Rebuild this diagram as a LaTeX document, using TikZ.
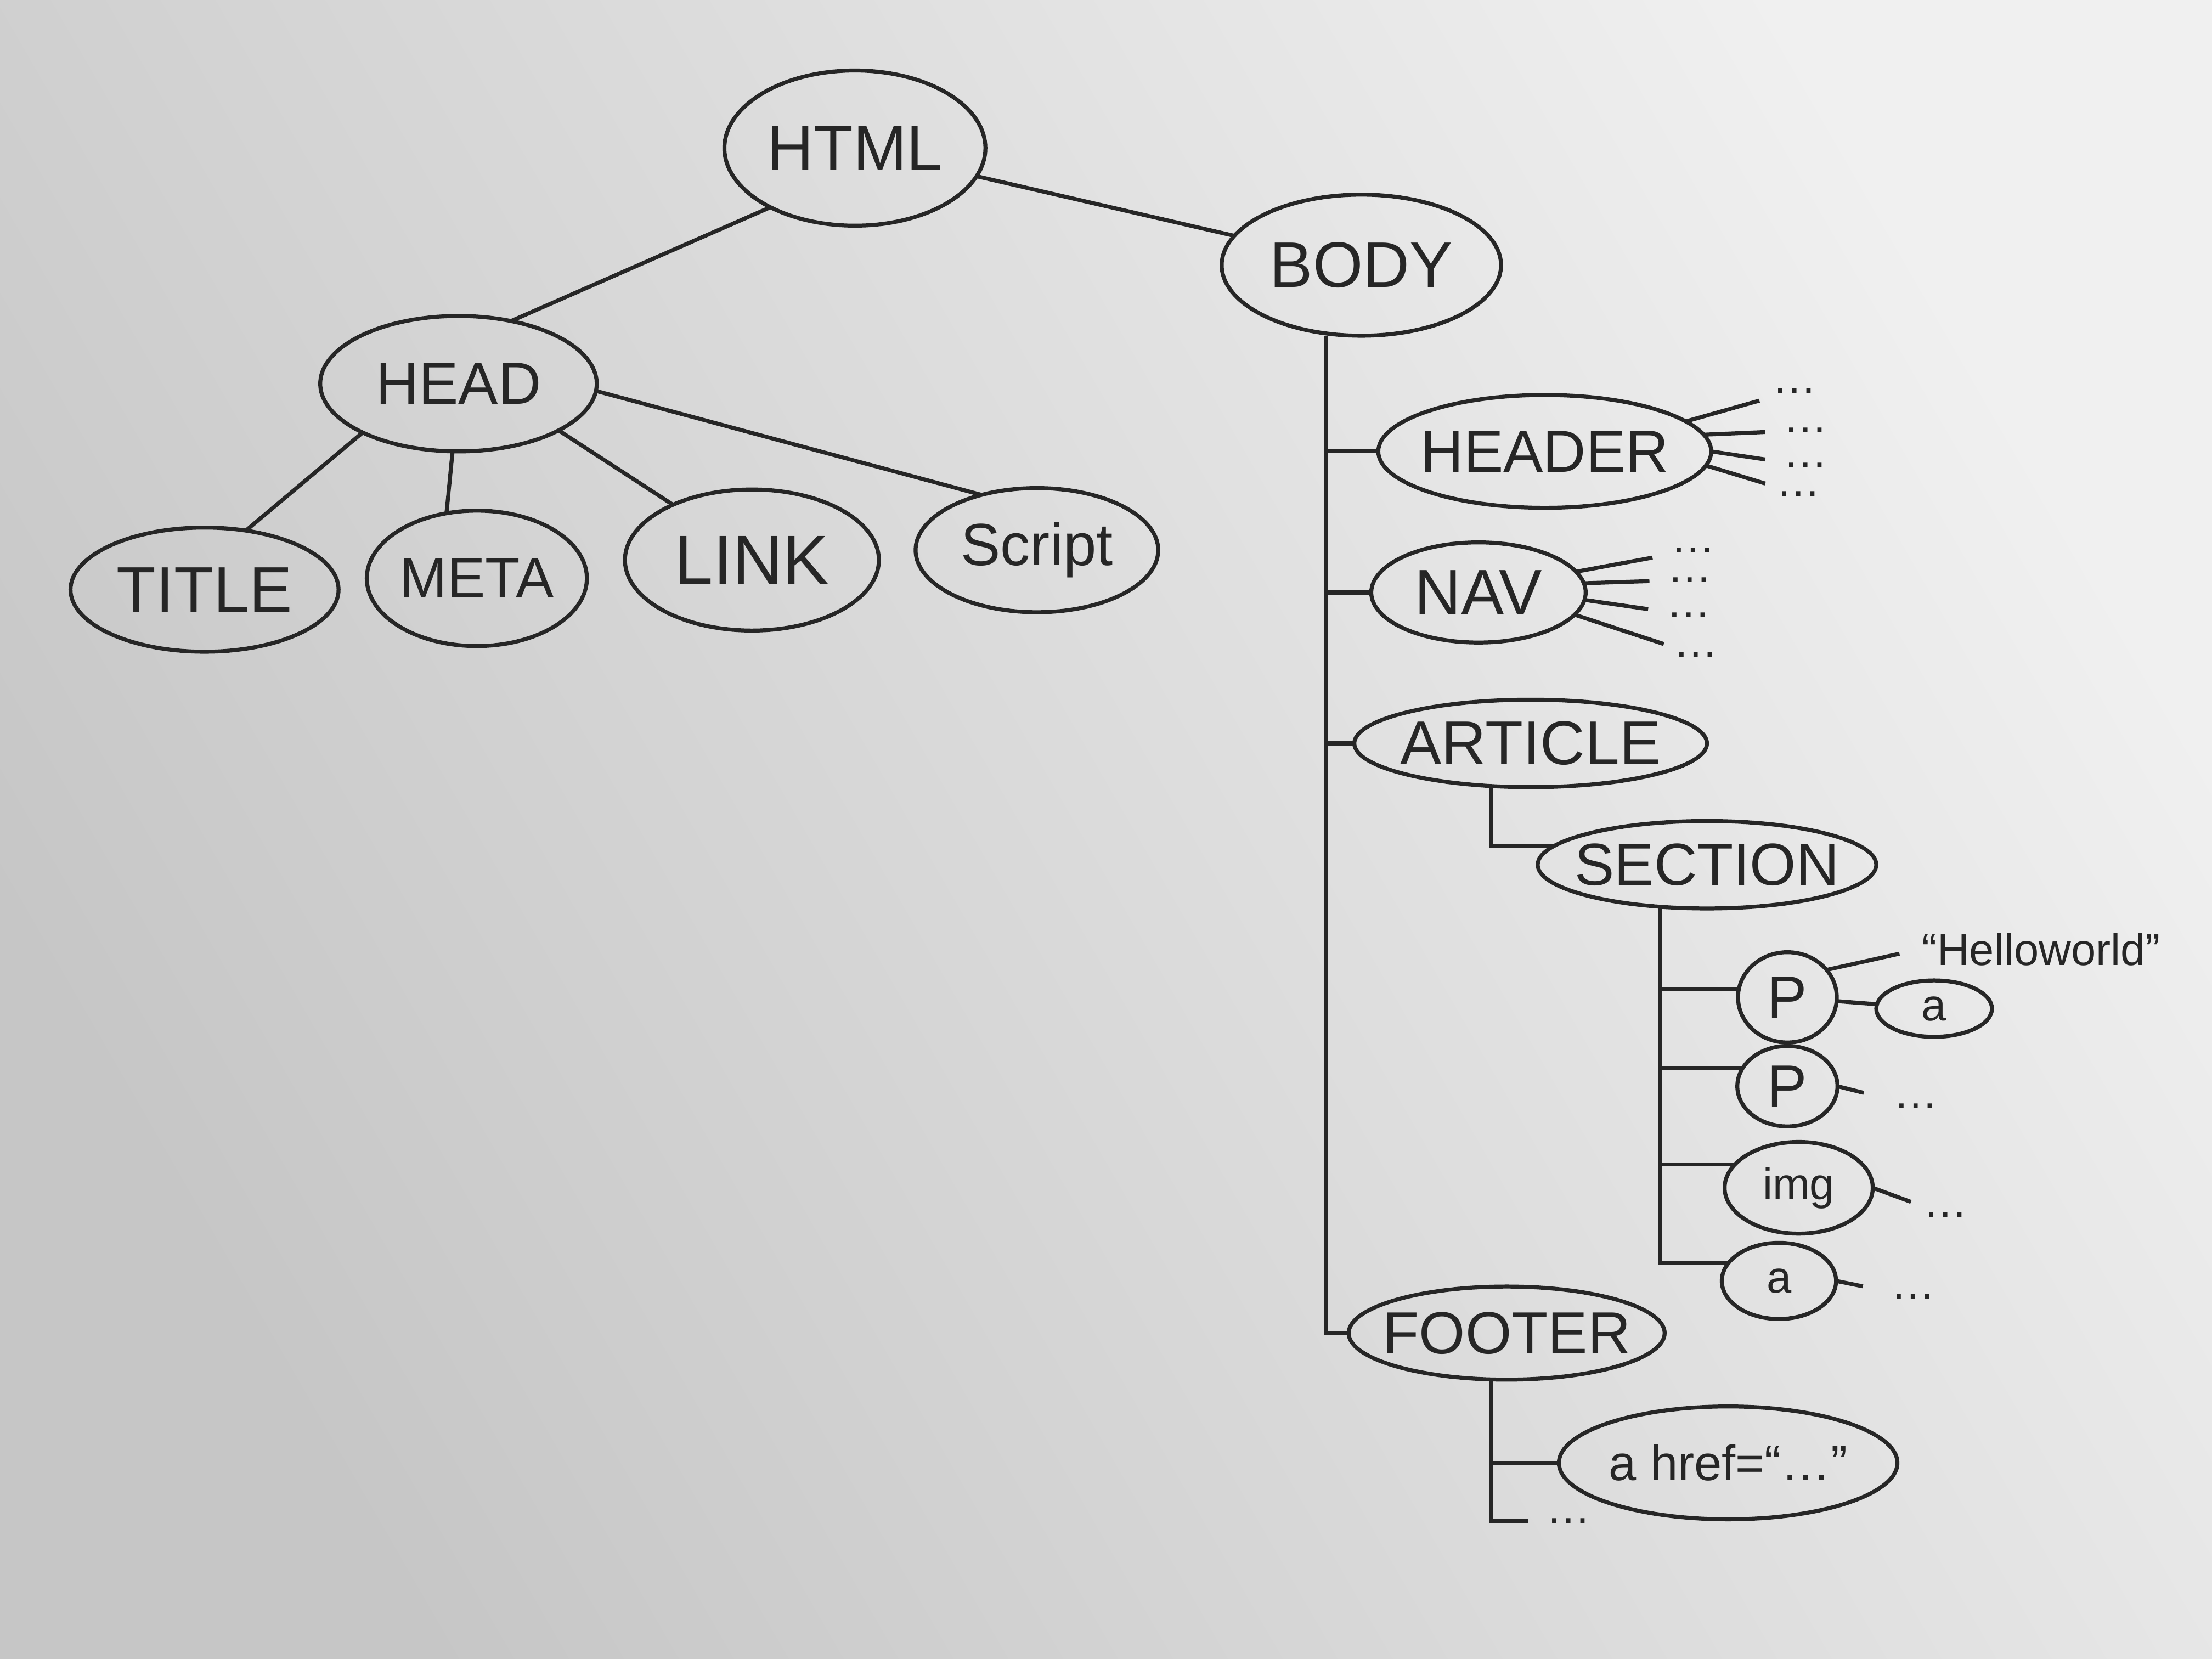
\documentclass[tikz,border=0pt]{standalone}
\usepackage{fontspec}
\setmainfont{Liberation Sans}
\usepackage{tkz-graph}
\usetikzlibrary{shapes.geometric}
\definecolor{ink}{RGB}{38,38,38}
\definecolor{boarddark}{RGB}{198,198,198}
\definecolor{boardlight}{RGB}{240,240,240}
\tikzset{oval/.style 2 args={minimum width=#1cm, minimum height=#2cm},
  fsize/.style={font=\fontsize{#1}{#1}\selectfont},
  dotsnode/.style={text=ink, inner sep=0.5pt, fsize=9}}

\begin{document}
\begin{tikzpicture}
\useasboundingbox (0,0) rectangle (15.68,11.76);
\shade[left color=boarddark, right color=boardlight, shading angle=120] (0,0) rectangle (15.68,11.76);
\GraphInit[vstyle=Empty]
\tikzset{VertexStyle/.style ={shape=ellipse, draw=ink, line width=0.8pt, text=ink, inner xsep=-6pt, inner ysep=0pt}}
\tikzset{EdgeStyle/.style ={draw=ink, line width=0.8pt}}
% head side
\Vertex[x=6.06, y=10.71, L=HTML, style={oval={1.85}{1.10}, fsize=13}]{HTML}
\Vertex[x=9.65, y=9.88, L=BODY, style={oval={1.98}{1.00}, fsize=13}]{BODY}
\Vertex[x=3.25, y=9.04, L=HEAD, style={oval={1.96}{0.96}, fsize=12}]{HEAD}
\Vertex[x=1.45, y=7.58, L=TITLE, style={oval={1.90}{0.88}, fsize=13}]{TITLE}
\Vertex[x=3.38, y=7.66, L=META, style={oval={1.56}{0.96}, fsize=11.5}]{META}
\Vertex[x=5.33, y=7.79, L=LINK, style={oval={1.80}{1.00}, fsize=14}]{LINK}
\Vertex[x=7.35, y=7.86, L=Script, style={oval={1.72}{0.88}, fsize=12}]{Script}
\Edge(HTML)(BODY)
\draw[EdgeStyle] (HTML.215) -- (HEAD.50);
\draw[EdgeStyle] (HEAD.207) -- (TITLE.55);
\draw[EdgeStyle] (HEAD.265) -- (META.115);
\draw[EdgeStyle] (HEAD.-25) -- (LINK.145);
\draw[EdgeStyle] (HEAD.-3) -- (Script.135);
% body side
\Vertex[x=10.95, y=8.56, L=HEADER, style={oval={2.36}{0.80}, fsize=12}]{HEADER}
\Vertex[x=10.48, y=7.56, L=NAV, style={oval={1.52}{0.71}, fsize=13}]{NAV}
\Vertex[x=10.85, y=6.49, L=ARTICLE, style={oval={2.50}{0.62}, fsize=12.5}]{ARTICLE}
\Vertex[x=12.10, y=5.63, L=SECTION, style={oval={2.40}{0.62}, fsize=12}]{SECTION}
\Vertex[x=10.68, y=2.31, L=FOOTER, style={oval={2.24}{0.66}, fsize=12}]{FOOTER}
\coordinate (bodytrunk) at ([xshift=-0.25cm]BODY.south);
\draw[EdgeStyle] (bodytrunk) |- (HEADER.west);
\draw[EdgeStyle] (bodytrunk) |- (NAV.west);
\draw[EdgeStyle] (bodytrunk) |- (ARTICLE.west);
\draw[EdgeStyle] (bodytrunk) |- (FOOTER.west);
\draw[EdgeStyle] ([xshift=-0.28cm]ARTICLE.south) |- (SECTION.173);
% fans
\node[dotsnode] (hd1) at (12.72,8.99) {\dots};
\node[dotsnode] (hd2) at (12.80,8.71) {\dots};
\node[dotsnode] (hd3) at (12.80,8.46) {\dots};
\node[dotsnode] (hd4) at (12.75,8.26) {\dots};
\node[dotsnode] (nd1) at (12.00,7.86) {\dots};
\node[dotsnode] (nd2) at (11.98,7.65) {\dots};
\node[dotsnode] (nd3) at (11.97,7.40) {\dots};
\node[dotsnode] (nd4) at (12.02,7.12) {\dots};
\draw[EdgeStyle, shorten >=3pt] (HEADER.12) -- (hd1);
\draw[EdgeStyle, shorten >=3pt] (HEADER.6) -- (hd2);
\draw[EdgeStyle, shorten >=3pt] (HEADER.0) -- (hd3);
\draw[EdgeStyle, shorten >=3pt] (HEADER.-5) -- (hd4);
\draw[EdgeStyle, shorten >=3pt] (NAV.12) -- (nd1);
\draw[EdgeStyle, shorten >=3pt] (NAV.5) -- (nd2);
\draw[EdgeStyle, shorten >=3pt] (NAV.-4) -- (nd3);
\draw[EdgeStyle, shorten >=3pt] (NAV.-13) -- (nd4);
% section
\Vertex[x=12.67, y=4.69, L=P, style={oval={0.70}{0.64}, fsize=12}]{P1}
\Vertex[x=13.71, y=4.61, L=a, style={oval={0.82}{0.40}, fsize=9}]{alink}
\Vertex[x=12.67, y=4.06, L=P, style={oval={0.71}{0.57}, fsize=12}]{P2}
\Vertex[x=12.75, y=3.34, L=img, style={oval={1.05}{0.65}, fsize=9}]{img}
\Vertex[x=12.61, y=2.68, L=a, style={oval={0.81}{0.54}, fsize=9}]{anchor}
\node[dotsnode] (hello) at (14.47,5.03) {“Helloworld”};
\node[dotsnode] (ptwodots) at (13.58,3.92) {\dots};
\node[dotsnode] (imgdots) at (13.79,3.15) {\dots};
\node[dotsnode] (anchordots) at (13.56,2.57) {\dots};
\coordinate (sectiontrunk) at ([xshift=-0.33cm]SECTION.south);
\draw[EdgeStyle] (sectiontrunk) |- (P1.170);
\draw[EdgeStyle] (sectiontrunk) |- (P2.158);
\draw[EdgeStyle] (sectiontrunk) |- (img.160);
\draw[EdgeStyle] (sectiontrunk) |- (anchor.160);
\Edge(P1)(alink)
\draw[EdgeStyle, shorten >=4pt] (P1.35) -- (hello.west);
\draw[EdgeStyle, shorten >=6pt] (P2.east) -- (ptwodots);
\draw[EdgeStyle, shorten >=4pt] (img.east) -- (imgdots);
\draw[EdgeStyle, shorten >=5pt] (anchor.east) -- (anchordots);
% footer
\Vertex[x=12.25, y=1.39, L={a href=“\dots”}, style={oval={2.40}{0.80}, fsize=10}]{href}
\node[dotsnode] (footerdots) at (11.12,0.98) {\dots};
\coordinate (footertrunk) at ([xshift=-0.11cm]FOOTER.south);
\draw[EdgeStyle] (footertrunk) |- (href.west);
\draw[EdgeStyle, shorten >=3pt] (footertrunk) |- (footerdots.west);
\end{tikzpicture}
\end{document}
